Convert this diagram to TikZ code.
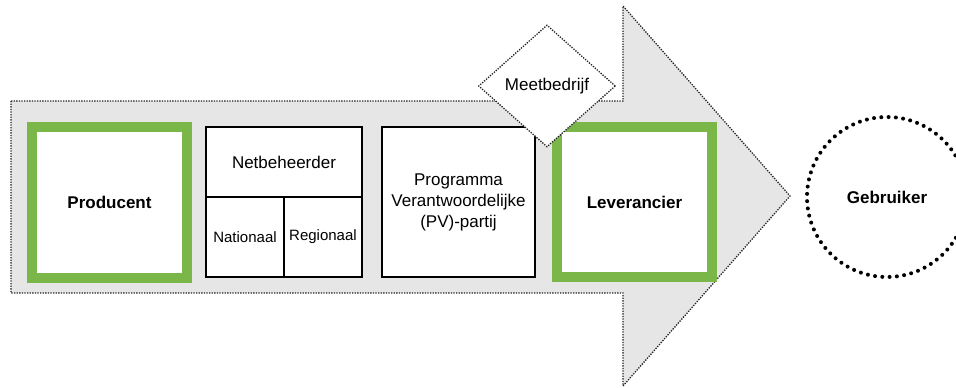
\documentclass[tikz,border=0pt]{standalone}
\usepackage{fontspec}
\setmainfont{Liberation Sans}
\usetikzlibrary{shapes.geometric}
\definecolor{arrowfill}{HTML}{E6E6E6}
\definecolor{greenline}{HTML}{7AB648}
\definecolor{dotgray}{HTML}{222222}
\tikzset{
  greenbox/.style={draw=greenline, line width=10pt, fill=white, rectangle, inner sep=0pt, font=\fontsize{17}{20}\selectfont\bfseries},
  blackbox/.style={draw=black, line width=2pt, fill=white, rectangle, inner sep=0pt, align=center, font=\fontsize{17}{21}\selectfont},
  smallbox/.style={blackbox, font=\fontsize{15}{18}\selectfont},
  dotline/.style={draw=dotgray, line width=1.3pt, dash pattern=on 1.3pt off 1.3pt},
}
\begin{document}
\begin{tikzpicture}[x=1pt,y=-1pt]
\useasboundingbox (0,0) rectangle (956,388);
\begin{scope}
\clip (0,0) rectangle (956,388);
% big arrow
\filldraw[fill=arrowfill, dotline] (11,101) -- (623,101) -- (623,6) -- (790,196) -- (623,386) -- (623,293) -- (11,293) -- cycle;
% Producent
\node[greenbox, minimum width=155pt, minimum height=151pt] (prod) at (109.5,202.5) {Producent};
% Netbeheerder
\node[blackbox, minimum width=156pt, minimum height=70pt] (nb) at (284,162) {Netbeheerder};
\node[smallbox, minimum width=78pt, minimum height=80pt] (nat) at (245,237) {Nationaal};
\node[smallbox, minimum width=78pt, minimum height=80pt] (reg) at (323,237) {Regionaal};
% PV
\node[blackbox, minimum width=153pt, minimum height=150pt] (pv) at (458.5,202) {Programma\\Verantwoordelijke\\(PV)-partij};
% Leverancier
\node[greenbox, minimum width=155pt, minimum height=150pt] (lev) at (634.5,202) {Leverancier};
% Meetbedrijf
\node[diamond, dotline, fill=white, minimum width=137pt, minimum height=122pt, inner sep=0pt, font=\fontsize{17}{20}\selectfont] (mb) at (547,86) {Meetbedrijf};
% Gebruiker
\node[circle, draw=black, line width=4pt, line cap=round, dash pattern=on 0pt off 7.3pt, minimum size=160pt, inner sep=0pt, font=\fontsize{17}{20}\selectfont\bfseries] (geb) at (887,197) {Gebruiker};
\end{scope}
\end{tikzpicture}
\end{document}
